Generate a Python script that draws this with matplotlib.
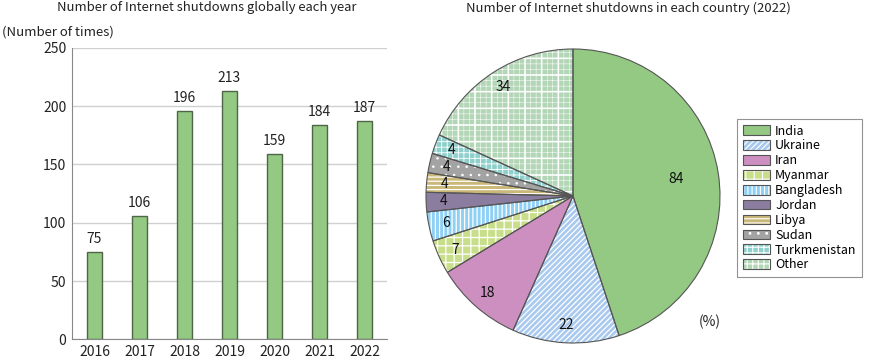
import matplotlib
matplotlib.use("Agg")
import matplotlib.pyplot as plt
from matplotlib.patches import Patch
import numpy as np

plt.rcParams['font.family'] = ['Noto Sans CJK JP', 'DejaVu Sans']
plt.rcParams['hatch.linewidth'] = 0.8

years = ['2016', '2017', '2018', '2019', '2020', '2021', '2022']
shutdowns = [75, 106, 196, 213, 159, 184, 187]

countries = ['India', 'Ukraine', 'Iran', 'Myanmar', 'Bangladesh', 'Jordan',
             'Libya', 'Sudan', 'Turkmenistan', 'Other']
counts = [84, 22, 18, 7, 6, 4, 4, 4, 4, 34]
colors = ['#93c983', '#a9c9ef', '#cc8fc0', '#c8de8a', '#8fd0f5', '#8a7da0',
          '#c9b878', '#a3a3a3', '#8fd0cc', '#b3d6b7']
hatches = [None, '//////', None, '++', '||||', None, '----', '..', '+++', '+++']
hatch_lw = [0, 0.9, 0, 0.9, 0.9, 0, 0.9, 0.6, 0.6, 0.35]


def set_hlw(p, lw):
    if hasattr(p, 'set_hatch_linewidth'):
        p.set_hatch_linewidth(lw)


fig = plt.figure(figsize=(8.76, 3.6), dpi=100)

# Bar chart
ax = fig.add_axes([72/876, 1-339.4/360, 315/876, 291.7/360])
x = np.arange(len(years))
ax.bar(x, shutdowns, width=0.32, color='#93c983', edgecolor='#4d6645', linewidth=1.0, zorder=3)
for xi, v in zip(x, shutdowns):
    ax.text(xi, v + 5, str(v), ha='center', va='bottom', fontsize=10, color='#222222')
ax.set_xlim(-0.5, 6.5)
ax.set_ylim(0, 250)
ax.set_yticks(range(0, 251, 50))
ax.set_xticks(x)
ax.set_xticklabels(years)
ax.tick_params(length=0, labelsize=10, colors='#222222', pad=4)
ax.grid(axis='y', color='#d0d0d0', linewidth=1.0, zorder=0)
for s in ['top', 'right']:
    ax.spines[s].set_visible(False)
for s in ['left', 'bottom']:
    ax.spines[s].set_color('#888888')
ax.set_axisbelow(True)
fig.text(207/876, 1-8/360, 'Number of Internet shutdowns globally each year',
         ha='center', va='center', fontsize=9.4, color='#222222')
fig.text(2/876, 1-32/360, '(Number of times)', ha='left', va='center', fontsize=9.5, color='#222222')

# Pie chart
r = 147
cx, cy = 573, 196
pax = fig.add_axes([(cx-r)/876, (360-cy-r)/360, 2*r/876, 2*r/360])
wedges, _ = pax.pie(counts, colors=colors, startangle=90, counterclock=False,
                    wedgeprops=dict(edgecolor='white', linewidth=0))
for w, h, lw in zip(wedges, hatches, hatch_lw):
    if h:
        w.set_hatch(h)
        set_hlw(w, lw)
# extra coarse grid on "Other"
extra, _ = pax.pie(counts, colors=['none']*len(counts), startangle=90, counterclock=False,
                   wedgeprops=dict(edgecolor='white', linewidth=0, facecolor='none'))
for i, w in enumerate(extra):
    if countries[i] == 'Other':
        w.set_hatch('+')
        set_hlw(w, 1.1)
    else:
        w.set_visible(False)
outl, _ = pax.pie(counts, colors=['none']*len(counts), startangle=90, counterclock=False,
                  wedgeprops=dict(edgecolor='#555555', linewidth=0.8, facecolor='none'))
for i, w in enumerate(wedges):
    ang = np.deg2rad((w.theta1 + w.theta2) / 2)
    d = 0.71 if i == 0 else 0.88
    pax.text(d*np.cos(ang), d*np.sin(ang), str(counts[i]), ha='center', va='center',
             fontsize=10, color='#111111')
pax.set_xlim(-1, 1)
pax.set_ylim(-1, 1)

handles = []
for c, h, lw in zip(colors, hatches, hatch_lw):
    p1 = Patch(facecolor=c, edgecolor='white', hatch=h, linewidth=0)
    if h:
        set_hlw(p1, max(lw, 0.6))
    p2 = Patch(facecolor='none', edgecolor='#555555', linewidth=0.8)
    handles.append((p1, p2))
leg = fig.legend(handles, countries, loc='upper left', bbox_to_anchor=(737/876, 1-119/360),
                 fontsize=9, frameon=True, fancybox=False, edgecolor='#777777',
                 handlelength=2.2, handleheight=0.8, handletextpad=0.4,
                 labelspacing=0.15, borderpad=0.45, borderaxespad=0)
leg.get_frame().set_linewidth(0.8)

fig.text(628/876, 1-8/360, 'Number of Internet shutdowns in each country (2022)',
         ha='center', va='center', fontsize=9.4, color='#222222')
fig.text(710/876, 1-322/360, '(%)', ha='center', va='center', fontsize=10, color='#222222')

fig.savefig('out.png', dpi=100)
